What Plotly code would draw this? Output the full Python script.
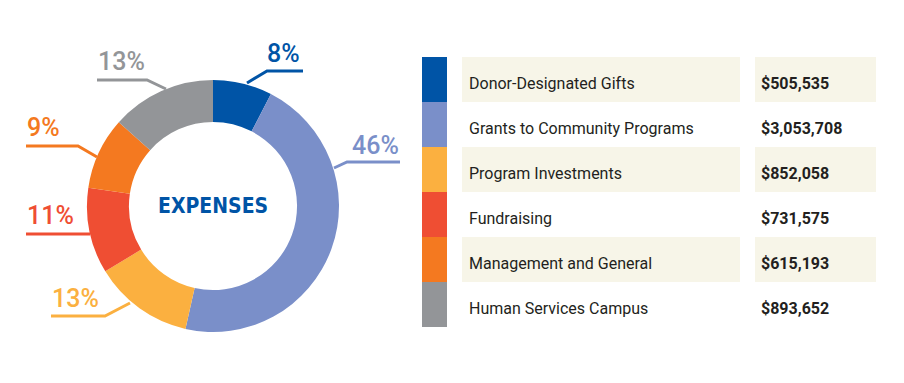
import plotly.graph_objects as go

categories = ["Donor-Designated Gifts", "Grants to Community Programs", "Program Investments",
              "Fundraising", "Management and General", "Human Services Campus"]
amounts = [505535, 3053708, 852058, 731575, 615193, 893652]
colors = ["#0054A6", "#7A8FC9", "#FBB040", "#EF4E33", "#F47920", "#939598"]
center_label = "EXPENSES"

W, H = 904, 383
OFF = 8  # page body margin
FW, FH = W - 2 * OFF, H - 2 * OFF
BEIGE = "#F7F5E8"

def px(x):
    return (x - OFF) / FW

def py(y):
    return 1 - (y - OFF) / FH

total = sum(amounts)
pcts = [round(a / total * 100) for a in amounts]
money = ["$" + f"{a:,}" for a in amounts]

fig = go.Figure()

# Donut
cx, cy, r = 213, 206, 126
fig.add_trace(go.Pie(
    labels=categories, values=amounts, hole=0.667, sort=False, direction="clockwise",
    rotation=0, marker=dict(colors=colors, line=dict(width=0)), textinfo="none",
    hoverinfo="label+value+percent", showlegend=False,
    domain=dict(x=[px(cx - r), px(cx + r)], y=[py(cy + r), py(cy - r)]),
))

# Table built from bars on a pixel-unit axis
row_fill = [BEIGE if i % 2 == 0 else "rgba(0,0,0,0)" for i in range(len(categories))]
fig.add_trace(go.Bar(y=categories, x=[25] * 6, base=0, orientation="h",
                     marker=dict(color=colors, line=dict(width=0)), showlegend=False,
                     hoverinfo="skip"))
fig.add_trace(go.Bar(y=categories, x=[278] * 6, base=40, orientation="h",
                     marker=dict(color=row_fill, line=dict(width=0)), showlegend=False,
                     hoverinfo="skip"))
fig.add_trace(go.Bar(y=categories, x=[121] * 6, base=333, orientation="h",
                     marker=dict(color=row_fill, line=dict(width=0)), showlegend=False,
                     hoverinfo="skip"))

for cat, m in zip(categories, money):
    fig.add_annotation(x=45, y=cat, xref="x", yref="y", text=cat, showarrow=False,
                       xanchor="left", yanchor="middle", yshift=-4,
                       font=dict(family="Roboto", size=16, color="#231F20"))
    fig.add_annotation(x=337, y=cat, xref="x", yref="y", text=m, showarrow=False,
                       xanchor="left", yanchor="middle", yshift=-4,
                       font=dict(family="Roboto", size=16, color="#231F20", weight="bold"))

fig.update_xaxes(domain=[px(422), px(876)], range=[0, 454], visible=False, fixedrange=True)
fig.update_yaxes(domain=[py(327), py(57)], autorange="reversed", visible=False,
                 categoryorder="array", categoryarray=categories, fixedrange=True)

# Leader lines and percent labels (layout positions in px)
label_pos = [(283, 53), (375, 145), (75, 298), (50, 215), (43, 128), (121, 62)]
leader_paths = [
    [(247, 83), (267, 71), (303, 71)],
    [(334, 168), (347, 162), (400, 162)],
    [(130, 303), (105, 316), (51, 316)],
    [(90, 234), (26, 234)],
    [(97, 157), (78, 146), (26, 146)],
    [(166, 89), (147, 80), (97, 80)],
]
for i, (pct, col) in enumerate(zip(pcts, colors)):
    pts = leader_paths[i]
    path = "M " + " L ".join(f"{px(x)},{py(y)}" for x, y in pts)
    fig.add_shape(type="path", path=path, xref="paper", yref="paper",
                  line=dict(color=col, width=3))
    lx, ly = label_pos[i]
    fig.add_annotation(x=px(lx), y=py(ly), xref="paper", yref="paper", text=f"{pct}%",
                       showarrow=False, xanchor="center", yanchor="middle",
                       font=dict(family="Roboto", size=25, color=col, weight=500))

fig.add_annotation(x=px(cx), y=py(cy), xref="paper", yref="paper", text=center_label,
                   showarrow=False, xanchor="center", yanchor="middle",
                   font=dict(family="DejaVu Sans Condensed", size=21, color="#0054A6", weight="bold"))

fig.update_layout(width=FW, height=FH, margin=dict(l=0, r=0, t=0, b=0),
                  paper_bgcolor="white", plot_bgcolor="white",
                  barmode="overlay", bargap=0)
fig.write_html("out.html")
